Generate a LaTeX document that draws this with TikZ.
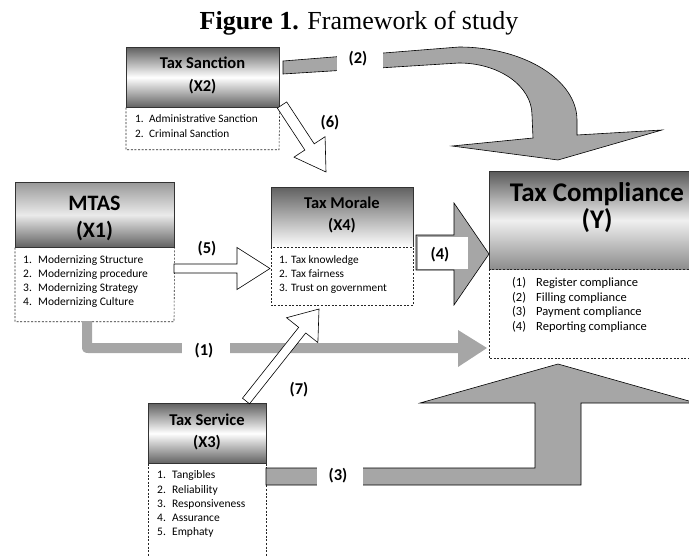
\documentclass[tikz,border=0pt]{standalone}
\usepackage{fontspec}
\setmainfont{Carlito}
\newfontfamily\titlefont{Liberation Serif}
\usetikzlibrary{calc}
\definecolor{arrgray}{HTML}{A6A6A6}
% block arrow: #1 start coord, #2 tip coord, #3 shaft half width, #4 head half width, #5 head length, #6 style
\newcommand{\blockarr}[6]{%
  \coordinate (#1-b) at ($(#2)!#5!(#1)$);
  \path[#6] ($(#1)!#3!90:(#2)$) -- ($(#1-b)!#3!90:(#2)$) -- ($(#1-b)!#4!90:(#2)$) -- (#2)
    -- ($(#1-b)!#4!-90:(#2)$) -- ($(#1-b)!#3!-90:(#2)$) -- ($(#1)!#3!-90:(#2)$) -- cycle;}
\begin{document}
\begin{tikzpicture}[x=1pt,y=-1pt,
  hdr/.style={draw=black!80, line width=0.7pt, inner sep=0pt, anchor=north west},
  hshade/.style={inner sep=0pt, anchor=north west},
  hline/.style={draw=black!80, line width=0.7pt},
  lst/.style={draw=black!85, line width=0.6pt, dash pattern=on 2pt off 1.6pt},
  gbox/.style={fill=arrgray, draw=black, line width=0.6pt, line join=miter},
  wbox/.style={fill=white, draw=black, line width=0.6pt, line join=miter},
  hb/.style={inner sep=0pt, font=\fontsize{16.5}{18}\selectfont\bfseries, text height=10.5pt, text depth=0pt},
  hbig/.style={inner sep=0pt, font=\fontsize{22}{24}\selectfont\bfseries, text height=14pt, text depth=0pt},
  hhuge/.style={inner sep=0pt, font=\fontsize{27}{30}\selectfont\bfseries, text height=17.5pt, text depth=0pt},
  li/.style={anchor=west, inner sep=0pt, text height=7pt, text depth=0pt},
  shadeA/.style={top color=black!62, bottom color=black!62, middle color=white},
]
\useasboundingbox (0,0) rectangle (689,555);

% title
\node[anchor=base, inner sep=0pt, font=\titlefont\fontsize{26}{30}\selectfont] (title) at (359,29) {\textbf{Figure 1.} Framework of study};

% ---------- Tax Sanction ----------
\node[hdr, minimum width=153pt, minimum height=60pt, shadeA] (sanction) at (126,47) {};
\node[hb] (sanction-t1) at (202.5,63) {Tax Sanction};
\node[hb] (sanction-t2) at (202.5,86) {(X2)};
\draw[lst] (sanction.south west) -- ++(0,42) -- ++(153,0) -- (sanction.south east);
\begin{scope}[font=\fontsize{11.3}{13}\selectfont]
\node[li] (sanction-l1) at (135,119) {\makebox[14pt][l]{1.}Administrative Sanction};
\node[li] (sanction-l2) at (135,134) {\makebox[14pt][l]{2.}Criminal Sanction};
\end{scope}

% ---------- MTAS ----------
\node[hdr, minimum width=159pt, minimum height=65pt, top color=black!40, bottom color=black!62, middle color=black!8] (mtas) at (15,182) {};
\node[hbig] (mtas-t1) at (94.5,203) {MTAS};
\node[hbig] (mtas-t2) at (94.5,230) {(X1)};
\draw[lst] (mtas.south west) -- ++(0,74) -- ++(159,0) -- (mtas.south east);
\begin{scope}[font=\fontsize{11.5}{13}\selectfont]
\node[li] (mtas-l1) at (23,260) {\makebox[15pt][l]{1.}Modernizing Structure};
\node[li] (mtas-l2) at (23,274) {\makebox[15pt][l]{2.}Modernizing procedure};
\node[li] (mtas-l3) at (23,288) {\makebox[15pt][l]{3.}Modernizing Strategy};
\node[li] (mtas-l4) at (23,302) {\makebox[15pt][l]{4.}Modernizing Culture};
\end{scope}

% ---------- Tax Morale ----------
\node[hshade, minimum width=142pt, minimum height=60pt, top color=black!62, bottom color=white] (morale) at (271,187) {};
\draw[hline] (morale.south west) -- (morale.north west) -- (morale.north east) -- (morale.south east);
\node[hb] (morale-t1) at (342,203) {Tax Morale};
\node[hb] (morale-t2) at (342,225) {(X4)};
\draw[lst] (morale.south west) rectangle ++(142,58);
\begin{scope}[font=\fontsize{11.3}{13}\selectfont]
\node[li] (morale-l1) at (279,260) {1. Tax knowledge};
\node[li] (morale-l2) at (279,274) {2. Tax fairness};
\node[li] (morale-l3) at (279,288) {3. Trust on government};
\end{scope}

% ---------- Tax Service ----------
\node[hdr, minimum width=118pt, minimum height=60pt, shadeA] (service) at (148,403) {};
\node[hb] (service-t1) at (207,420) {Tax Service};
\node[hb] (service-t2) at (207,442) {(X3)};
\draw[lst] (service.south west) -- ++(0,100);
\draw[lst] (service.south east) -- ++(0,100);
\begin{scope}[font=\fontsize{11.5}{13}\selectfont]
\node[li] (service-l1) at (157,475) {\makebox[15pt][l]{1.}Tangibles};
\node[li] (service-l2) at (157,490) {\makebox[15pt][l]{2.}Reliability};
\node[li] (service-l3) at (157,504) {\makebox[15pt][l]{3.}Responsiveness};
\node[li] (service-l4) at (157,518) {\makebox[15pt][l]{4.}Assurance};
\node[li] (service-l5) at (157,532) {\makebox[15pt][l]{5.}Emphaty};
\end{scope}

% ---------- Tax Compliance ----------
\node[hshade, minimum width=216pt, minimum height=98pt, top color=black!65, bottom color=black!45, middle color=black!6] (comp) at (489,171) {};
\draw[hline] (comp.south west) -- (comp.north west) -- (comp.north east) -- (comp.south east);
\node[hhuge] (comp-t1) at (597,193) {Tax Compliance};
\node[hhuge] (comp-t2) at (597,220) {(Y)};
\draw[lst] (comp.south west) rectangle ++(216,89);
\begin{scope}[font=\fontsize{12.5}{14}\selectfont]
\node[li] (comp-l1) at (512,283) {\makebox[24pt][l]{(1)}Register compliance};
\node[li] (comp-l2) at (512,298) {\makebox[24pt][l]{(2)}Filling compliance};
\node[li] (comp-l3) at (512,312) {\makebox[24pt][l]{(3)}Payment compliance};
\node[li] (comp-l4) at (512,327) {\makebox[24pt][l]{(4)}Reporting compliance};
\end{scope}

% ---------- arrow (1) ----------
\fill[arrgray] (82,321) -- (82,347) .. controls (82,351) and (84,353) .. (88,353) -- (458,353) -- (458,367)
  -- (487,348) -- (458,330) -- (458,343) -- (92,343) -- (92,321) -- cycle;
\fill[white] (182,337) rectangle (230,358);
\node[hb] (lab1) at (204,350) {(1)};

% ---------- arrow (2) ----------
\path[gbox] (283,61) -- (459,47) .. controls (524,47) and (577,80) .. (577,120) -- (577,135) -- (662,130)
  -- (558,160) -- (452,146) -- (533,138) -- (532,115) .. controls (532,86) and (499,63) .. (459,63)
  -- (283,74) -- cycle;
\fill[white] (337,44) rectangle (383,80);
\node[hb] (lab2) at (358,58) {(2)};

% ---------- arrow (3) ----------
\path[gbox] (266,468) -- (535,468) -- (535,403) -- (420,403) -- (558,364) -- (696,403) -- (581,403)
  -- (581,485) -- (266,485) -- cycle;
\fill[white] (317,465) rectangle (363,489);
\node[hb] (lab3) at (338,475) {(3)};

% ---------- arrow (4) ----------
\path[gbox] (416,235) -- (454,235) -- (454,203) -- (489,254) -- (454,305) -- (454,270) -- (416,270) -- cycle;
\fill[white] (417.5,236.8) rectangle (468,269.3);
\node[hb] (lab4) at (440,254) {(4)};

% ---------- arrow (5) ----------
\coordinate (a5s) at (174,268.5);
\coordinate (a5t) at (270,268.5);
\blockarr{a5s}{a5t}{4.5pt}{21pt}{33pt}{wbox}
\node[hb] (lab5) at (207,248) {(5)};

% ---------- arrow (6) ----------
\coordinate (a6s) at (282,105);
\coordinate (a6t) at (326,172);
\blockarr{a6s}{a6t}{5.6pt}{18.6pt}{30pt}{wbox}
\node[hb] (lab6) at (330,122) {(6)};

% ---------- arrow (7) ----------
\coordinate (a7s) at (246,401);
\coordinate (a7t) at (319,309);
\blockarr{a7s}{a7t}{4.5pt}{20pt}{27pt}{wbox}
\node[hb] (lab7) at (299,389) {(7)};
\end{tikzpicture}
\end{document}
